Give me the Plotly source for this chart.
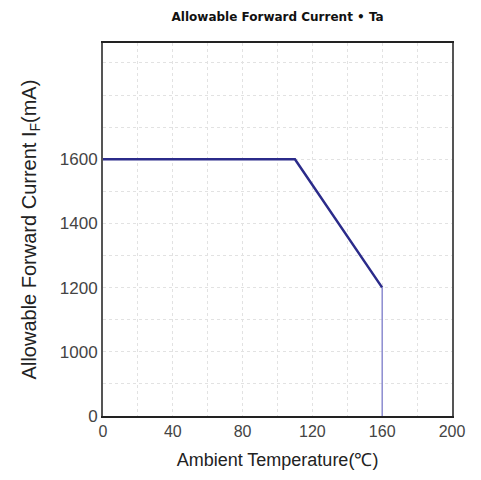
import plotly.graph_objects as go

# Data
temperature = [0, 110, 160, 160]          # Ambient temperature (°C)
current = [1600, 1600, 1200, 0]           # Allowable forward current (mA)

x_tick_vals = [0, 40, 80, 120, 160, 200]
x_tick_text = ["0", "40", "80", "120", "160", "200"]
y_tick_vals = [800, 1000, 1200, 1400, 1600]
y_tick_text = ["0", "1000", "1200", "1400", "1600"]

fig = go.Figure()
fig.add_trace(go.Scatter(
    x=temperature[:3], y=current[:3], mode="lines",
    line=dict(color="#2b2b8a", width=2.5), showlegend=False,
))
fig.add_trace(go.Scatter(
    x=temperature[2:], y=current[2:], mode="lines",
    line=dict(color="#8c8cd0", width=1.5), showlegend=False,
))

grid = dict(showgrid=True, gridcolor="#e2e2e2", griddash="dot", gridwidth=1)

fig.update_layout(
    width=473, height=472,
    margin=dict(l=95, r=29, t=35, b=64),
    paper_bgcolor="white", plot_bgcolor="white",
    font=dict(family="Liberation Sans, Arial, sans-serif", color="#333333"),
    title=dict(text="<b>Allowable Forward Current • Ta</b>", x=0.57, xanchor="center",
               y=0.99, yanchor="top",
               font=dict(family="DejaVu Sans, sans-serif", size=12, color="#111111")),
)
fig.update_xaxes(
    range=[0, 200], tickmode="array", tickvals=x_tick_vals, ticktext=x_tick_text,
    minor=dict(dtick=20, tick0=0, **grid), **grid,
    showline=True, linecolor="#222222", linewidth=2, mirror=True,
    ticks="", tickfont=dict(size=16, color="#444444"), zeroline=False,
    title=dict(text="Ambient Temperature(℃)", font=dict(size=18, color="#222222"), standoff=14),
)
fig.update_yaxes(
    range=[800, 1962], tickmode="array", tickvals=y_tick_vals, ticktext=y_tick_text,
    minor=dict(dtick=100, tick0=800, **grid), **grid,
    showline=True, linecolor="#555555", linewidth=2, mirror=True,
    ticks="", tickfont=dict(size=17, color="#444444"), zeroline=False,
    title=dict(text="Allowable Forward Current I<sub>F</sub>(mA)", font=dict(size=20, color="#222222"), standoff=18),
)

fig.write_html("out.html")
